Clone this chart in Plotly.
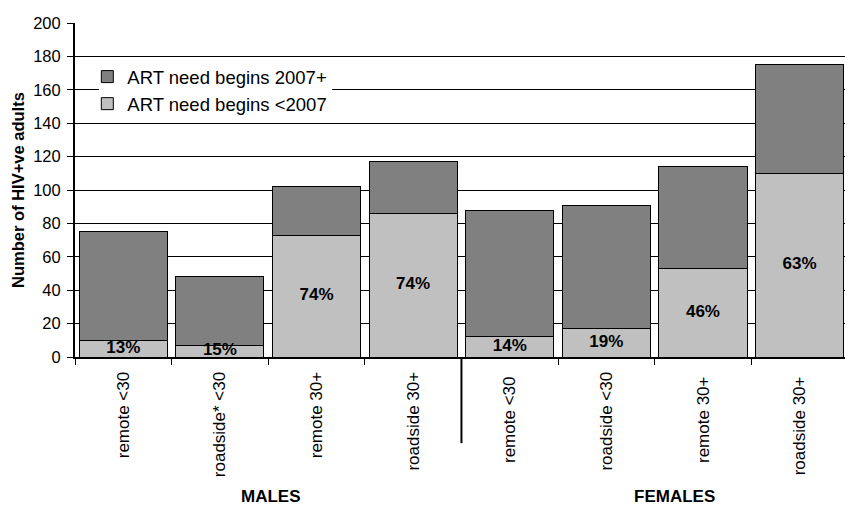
import plotly.graph_objects as go

categories = ["remote <30", "roadside* <30", "remote 30+", "roadside 30+",
              "remote <30 ", "roadside <30", "remote 30+ ", "roadside 30+ "]
need_before_2007 = [10, 7, 73, 86, 12, 17, 53, 110]
need_2007_plus = [65, 41, 29, 31, 76, 74, 61, 65]
pct_labels = ["13%", "15%", "74%", "74%", "14%", "19%", "46%", "63%"]
groups = ["MALES", "FEMALES"]

FONT = "Liberation Sans, Arial, sans-serif"
NARROW = "Liberation Sans Narrow, Liberation Sans, Arial, sans-serif"

fig = go.Figure()
fig.add_trace(go.Bar(
    x=categories, y=need_before_2007, name="ART need begins <2007",
    marker=dict(color="#C0C0C0", line=dict(color="black", width=1)),
))
fig.add_trace(go.Bar(
    x=categories, y=need_2007_plus, name="ART need begins 2007+",
    marker=dict(color="#808080", line=dict(color="black", width=1)),
))
fig.add_trace(go.Scatter(
    x=categories, y=[v / 2 for v in need_before_2007], text=pct_labels,
    mode="text", textfont=dict(family=FONT, size=17, color="black", weight="bold"),
    showlegend=False, hoverinfo="skip",
))

fig.update_layout(
    barmode="stack",
    bargap=0.088,
    width=845, height=505,
    margin=dict(l=75, r=0, t=23, b=148),
    plot_bgcolor="white", paper_bgcolor="white",
    font=dict(family=FONT, size=16, color="black"),
    legend=dict(
        x=0.016, y=0.895, xanchor="left", yanchor="top",
        traceorder="reversed", bgcolor="rgba(0,0,0,0)",
        font=dict(family=FONT, size=18.5, color="black"),
        itemwidth=30, tracegroupgap=0,
    ),
    xaxis=dict(
        type="category", range=[-0.5, 7.47],
        tickson="boundaries", ticks="outside", ticklen=6, tickcolor="black",
        tickangle=-90, showline=True, linecolor="black", linewidth=2,
        tickfont=dict(family=FONT, size=17, color="black"),
        ticklabelstandoff=6,
        showgrid=False,
    ),
    yaxis=dict(
        range=[0, 200], dtick=20, showgrid=True, gridcolor="black", gridwidth=1,
        showline=True, linecolor="black", linewidth=2,
        ticks="outside", ticklen=6, tickcolor="black",
        tickfont=dict(family=FONT, size=16.5, color="black"),
        ticklabelstandoff=3,
        title=dict(text="<b>Number of HIV+ve adults</b>",
                   font=dict(family=FONT, size=16.5, color="black"), standoff=4),
        zeroline=False,
    ),
)

# white legend box covering the gridline behind the legend
fig.add_shape(type="rect", xref="x", yref="y", x0=-0.253, x1=2.162,
              y0=143.5, y1=176.5, fillcolor="white", line=dict(width=0),
              layer="between")

fig.add_shape(type="line", xref="x", yref="paper", x0=3.5, x1=3.5, y0=0, y1=-0.258,
              line=dict(color="black", width=2))

for gx, g in zip([0.254, 0.778], groups):
    fig.add_annotation(text="<b>" + g + "</b>", xref="paper", yref="paper",
                       x=gx, y=-0.382, xanchor="center", yanchor="top",
                       showarrow=False, font=dict(family=NARROW, size=17, color="black"))

fig.write_html("out.html", config={"displayModeBar": False},
               post_script="document.body.style.margin='0';document.body.style.overflow='hidden';")
